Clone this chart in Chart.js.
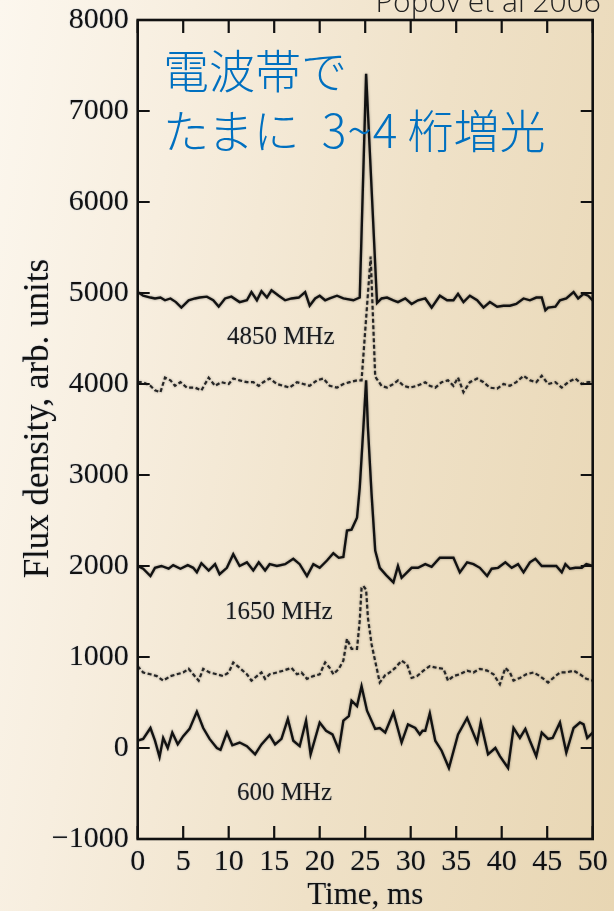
<!DOCTYPE html>
<html>
<head>
<meta charset="utf-8">
<title>Flux density vs time</title>
<script src="https://cdn.jsdelivr.net/npm/chart.js@4"></script>
<style>
  html, body { margin: 0; padding: 0; }
  body {
    width: 614px; height: 911px; overflow: hidden; position: relative;
    background: linear-gradient(100deg, #fcf7ee 0%, #f7eedf 25%, #efe1c7 60%, #e8d6b3 100%);
  }
  #plot { position: absolute; left: 0; top: 0; }
  .note {
    position: absolute; left: 163px; top: 38px;
    font-family: "Noto Sans CJK JP", sans-serif; font-weight: 300; font-size: 46px; line-height: 60px;
    color: #0070c0; white-space: nowrap;
  }
  .note .num { margin-left: 22px; margin-right: 9px; letter-spacing: 1px; }
  .cite {
    position: absolute; right: 13px; top: -14px;
    font-family: "Open Sans", sans-serif; font-weight: 300; font-size: 30px; line-height: 30px;
    color: #222; white-space: nowrap;
  }
</style>
</head>
<body>
<canvas id="plot" width="614" height="911"></canvas>
<div class="note">電波帯で<br>たまに<span class="num">3~4</span>桁増光</div>
<div class="cite">Popov et al 2006</div>

<script>
// time axis (ms) and flux values for each trace

// 4850 MHz, solid
const t4850 = [0, 0.6, 1.4, 1.9, 2.5, 3.0, 3.6, 4.2, 4.8, 5.6, 6.3, 6.8, 7.6, 8.3, 8.9, 9.6, 10.3, 11.2, 12.0, 12.5, 13.1, 13.6, 14.2, 14.7, 15.5, 16.2, 16.9, 17.7, 18.4, 18.9, 19.5, 20.0, 20.6, 21.1, 21.9, 22.6, 23.7, 24.4, 25.1, 26.3, 26.8, 27.4, 28.1, 28.6, 29.4, 30.1, 30.8, 31.6, 32.3, 33.2, 34.0, 34.7, 35.2, 35.8, 36.5, 37.3, 38.0, 38.7, 39.5, 40.2, 40.9, 41.6, 42.4, 43.1, 43.8, 44.4, 44.8, 45.1, 45.9, 46.4, 47.1, 47.9, 48.4, 49.0, 49.5, 50.0];
const f4850 = [5010, 4970, 4950, 4940, 4950, 4920, 4940, 4900, 4840, 4920, 4940, 4950, 4960, 4920, 4850, 4940, 4960, 4900, 4920, 5010, 4920, 5020, 4950, 5030, 4970, 4920, 4940, 4950, 5010, 4860, 4940, 4970, 4920, 4940, 4970, 4940, 4920, 4950, 7410, 4890, 4940, 4950, 4920, 4900, 4940, 4880, 4920, 4940, 4840, 4970, 4920, 4920, 4990, 4900, 4970, 4920, 4840, 4900, 4850, 4860, 4860, 4880, 4940, 4920, 4950, 4950, 4810, 4840, 4850, 4920, 4940, 5010, 4940, 4990, 4970, 4920];

// dashed trace offset to 4000
const t4850b = [0, 0.6, 1.4, 1.9, 2.5, 3.0, 3.6, 4.1, 4.7, 5.4, 6.3, 7.0, 7.8, 8.5, 9.2, 10.0, 10.5, 11.2, 12.0, 12.7, 13.3, 13.8, 14.5, 15.3, 16.0, 16.7, 17.5, 18.2, 18.9, 19.7, 20.4, 21.1, 21.9, 22.6, 23.3, 24.1, 24.6, 25.6, 26.1, 26.8, 27.4, 28.1, 28.6, 29.2, 29.9, 30.7, 31.6, 32.1, 32.7, 33.4, 34.1, 34.7, 35.2, 35.8, 36.5, 37.3, 38.0, 38.7, 39.5, 40.2, 40.9, 41.6, 42.4, 43.1, 43.8, 44.4, 45.1, 45.9, 46.6, 47.3, 48.1, 48.8, 49.5, 50.0];
const f4850b = [4020, 4020, 3980, 3930, 3910, 4070, 4040, 3980, 4020, 3960, 3960, 3930, 4070, 3980, 4020, 4000, 4060, 4040, 4020, 4020, 3980, 4020, 4060, 4000, 3980, 3960, 4020, 4000, 3980, 4040, 4060, 3980, 3960, 4000, 4020, 4040, 4040, 5400, 4080, 3980, 3960, 4000, 4040, 3980, 3960, 3980, 4020, 3980, 3960, 4020, 4040, 3980, 4070, 3910, 4020, 4060, 4020, 3960, 3950, 4000, 3980, 4020, 4090, 4040, 4020, 4090, 4000, 4020, 3960, 4020, 4060, 4000, 4020, 4020];

// 1650 MHz, solid
const t1650 = [0, 0.6, 1.4, 1.9, 2.6, 3.4, 3.9, 4.7, 5.5, 6.1, 6.5, 7.0, 7.8, 8.5, 9.0, 9.8, 10.5, 11.2, 12.0, 12.7, 13.3, 14.0, 14.5, 15.3, 16.2, 17.1, 17.8, 18.6, 19.3, 20.0, 20.8, 21.5, 22.1, 22.6, 23.0, 23.5, 24.1, 24.4, 24.8, 25.1, 25.3, 25.7, 26.1, 26.6, 27.3, 28.1, 28.6, 29.0, 29.6, 30.1, 30.8, 31.6, 32.3, 33.2, 34.1, 34.7, 35.4, 36.2, 36.9, 37.6, 38.4, 38.9, 39.6, 40.4, 41.1, 41.8, 42.4, 43.1, 43.7, 44.4, 45.1, 46.0, 46.6, 47.0, 47.5, 48.1, 48.8, 49.3, 50.0];
const f1650 = [2000, 1970, 1890, 1980, 2000, 1970, 2010, 1970, 2010, 1980, 1930, 2030, 1950, 2020, 1910, 1980, 2130, 2000, 2040, 1950, 2040, 1950, 2020, 2000, 2020, 2080, 2020, 1890, 2020, 1980, 2060, 2140, 2090, 2100, 2390, 2400, 2530, 2860, 3520, 4040, 3520, 2790, 2170, 1980, 1900, 1820, 2000, 1870, 1930, 1980, 1980, 2020, 1990, 2090, 2090, 2090, 1930, 2040, 2020, 1980, 1890, 1970, 1980, 2040, 1980, 2020, 1930, 2040, 2080, 2000, 2000, 2000, 1930, 2020, 1970, 1980, 1980, 2020, 2000];

// dashed trace offset to 800
const t1650b = [0, 0.6, 1.4, 2.1, 2.8, 3.6, 4.3, 5.0, 5.6, 6.1, 6.7, 7.2, 7.9, 8.7, 9.4, 10.0, 10.5, 11.2, 12.0, 12.5, 13.1, 13.6, 14.0, 14.5, 15.3, 16.0, 16.9, 17.5, 18.0, 18.6, 19.3, 20.0, 20.6, 21.1, 21.5, 22.1, 22.6, 23.0, 23.5, 24.1, 24.4, 24.6, 24.8, 25.1, 25.3, 25.7, 26.6, 27.2, 27.7, 28.3, 29.0, 29.6, 30.1, 30.7, 31.4, 32.1, 32.9, 33.6, 34.1, 34.7, 35.4, 36.2, 36.9, 37.6, 38.4, 39.1, 39.8, 40.4, 40.9, 41.3, 42.0, 42.7, 43.5, 44.2, 45.1, 45.9, 46.4, 47.1, 47.9, 48.6, 49.3, 50.0];
const f1650b = [900, 830, 810, 790, 740, 790, 810, 830, 870, 810, 740, 870, 830, 810, 790, 830, 940, 880, 810, 740, 790, 830, 760, 810, 830, 850, 880, 810, 830, 760, 790, 810, 940, 880, 810, 870, 960, 1200, 1090, 1090, 1400, 1760, 1780, 1740, 1430, 1140, 720, 800, 830, 880, 960, 920, 770, 790, 850, 900, 880, 870, 740, 790, 810, 850, 830, 870, 850, 810, 700, 880, 830, 740, 770, 810, 830, 790, 720, 790, 830, 830, 850, 810, 760, 740];

// 600 MHz, solid
const t600 = [0, 0.6, 1.4, 1.9, 2.4, 2.8, 3.3, 3.8, 4.4, 5.0, 5.7, 6.5, 7.2, 7.9, 8.7, 9.1, 9.8, 10.4, 11.2, 12.0, 12.9, 13.6, 14.5, 15.1, 15.8, 16.5, 17.1, 17.8, 18.5, 19.0, 20.0, 20.7, 21.4, 22.1, 22.6, 23.2, 23.5, 24.1, 24.6, 25.2, 26.1, 26.6, 27.2, 28.1, 29.0, 29.7, 30.5, 31.0, 31.3, 31.6, 32.1, 32.7, 33.4, 34.2, 35.2, 36.2, 37.3, 37.7, 38.5, 39.3, 39.8, 40.7, 41.3, 42.0, 42.6, 43.1, 43.8, 44.4, 45.1, 45.6, 46.4, 47.1, 47.9, 48.6, 49.0, 49.4, 50.0];
const f600 = [80, 100, 220, 80, -100, 110, 0, 170, 40, 130, 210, 400, 220, 100, 0, -20, 170, 30, 60, 20, -70, 40, 140, 40, 100, 320, 80, 20, 300, -70, 280, 190, 150, -20, 300, 350, 520, 460, 680, 410, 210, 220, 170, 390, 60, 260, 220, 150, 190, 190, 380, 80, -30, -220, 150, 330, 60, 280, -70, 0, -90, -220, 220, 110, 210, 80, -90, 170, 100, 110, 280, -50, 220, 280, 260, 110, 170];

const xTicks = { min: 0, max: 50, step: 5 };
const yTicks = { min: -1000, max: 8000, step: 1000 };
const yTitle = 'Flux density, arb. units';

// text tags placed in data coordinates
const bandTags = [
  { text: '4850 MHz', t: 9.8, v: 4510 },
  { text: '1650 MHz', t: 9.6, v: 1490 },
  { text: '600 MHz', t: 10.9, v: -495 }
];

const serif = 'Liberation Serif, Times New Roman, serif';
const ink = '#111';
const glow = 'rgba(70,110,170,0.45)';

function pts(ts, vs) {
  return ts.map((t, i) => ({ x: t, y: vs[i] }));
}

function trace(ts, vs, dashed) {
  return {
    data: pts(ts, vs),
    borderColor: dashed ? '#262626' : '#121212',
    borderWidth: dashed ? 2.2 : 2.4,
    borderDash: dashed ? [4, 2.5] : [],
    pointRadius: 0,
    tension: 0,
    fill: false
  };
}

// faint halo around the axis text
const textHalo = {
  id: 'textHalo',
  beforeDraw(chart) {
    const ctx = chart.ctx;
    ctx.save();
    ctx.shadowColor = glow;
    ctx.shadowBlur = 1.5;
  },
  beforeDatasetsDraw(chart) {
    chart.ctx.restore();
  }
};

// soft halo under the traces
const traceHalo = {
  id: 'traceHalo',
  beforeDatasetsDraw(chart) {
    const ctx = chart.ctx;
    ctx.save();
    ctx.shadowColor = 'rgba(0,0,0,0.4)';
    ctx.shadowBlur = 2.5;
  },
  afterDatasetsDraw(chart) {
    chart.ctx.restore();
  }
};

// boxed frame with inward ticks, band tags and the vertical axis title
const frameTicks = {
  id: 'frameTicks',
  afterDatasetsDraw(chart) {
    const { ctx, chartArea: a, scales: { x, y } } = chart;
    ctx.save();
    ctx.strokeStyle = ink;
    ctx.lineWidth = 2.6;
    ctx.strokeRect(a.left, a.top, a.right - a.left, a.bottom - a.top);
    ctx.lineWidth = 2.2;
    ctx.beginPath();
    x.ticks.forEach(tk => {
      const px = x.getPixelForValue(tk.value);
      ctx.moveTo(px, a.bottom); ctx.lineTo(px, a.bottom - 13);
      ctx.moveTo(px, a.top); ctx.lineTo(px, a.top + 13);
    });
    y.ticks.forEach(tk => {
      const py = y.getPixelForValue(tk.value);
      ctx.moveTo(a.left, py); ctx.lineTo(a.left + 12, py);
      ctx.moveTo(a.right, py); ctx.lineTo(a.right - 12, py);
    });
    ctx.stroke();

    ctx.fillStyle = '#1a1a1a';
    ctx.shadowColor = glow;
    ctx.shadowBlur = 1.5;
    ctx.font = '25px ' + serif;
    ctx.textAlign = 'left';
    ctx.textBaseline = 'middle';
    bandTags.forEach(b => {
      ctx.fillText(b.text, x.getPixelForValue(b.t), y.getPixelForValue(b.v));
    });

    ctx.fillStyle = ink;
    ctx.font = '35px ' + serif;
    ctx.textAlign = 'center';
    ctx.translate(38.5, y.getPixelForValue(3620));
    ctx.rotate(-Math.PI / 2);
    ctx.fillText(yTitle, 0, 0);
    ctx.restore();
  }
};

new Chart(document.getElementById('plot'), {
  type: 'line',
  data: {
    datasets: [
      trace(t4850, f4850, false),
      trace(t4850b, f4850b, true),
      trace(t1650, f1650, false),
      trace(t1650b, f1650b, true),
      trace(t600, f600, false)
    ]
  },
  plugins: [textHalo, traceHalo, frameTicks],
  options: {
    responsive: false,
    devicePixelRatio: 1,
    animation: false,
    layout: { padding: { left: 0, right: 21.3, top: 20, bottom: 0 } },
    plugins: { legend: { display: false }, tooltip: { enabled: false } },
    scales: {
      x: {
        type: 'linear',
        min: xTicks.min, max: xTicks.max,
        grid: { display: false, drawTicks: false },
        border: { display: false },
        ticks: {
          stepSize: xTicks.step, padding: 5, color: ink, maxRotation: 0, autoSkip: false,
          font: { family: serif, size: 30 }
        },
        title: {
          display: true, text: 'Time, ms', color: ink,
          font: { family: serif, size: 31, lineHeight: 1 },
          padding: { top: 0, bottom: 0 }
        },
        afterFit(s) { s.height = 72; s.paddingLeft = 0; s.paddingRight = 0; }
      },
      y: {
        type: 'linear',
        min: yTicks.min, max: yTicks.max,
        grid: { display: false, drawTicks: false },
        border: { display: false },
        ticks: {
          stepSize: yTicks.step, padding: 9, color: ink,
          font: { family: serif, size: 30 },
          callback: v => (v < 0 ? '\u2212' + Math.abs(v) : String(v))
        },
        title: { display: false },
        afterFit(s) { s.width = 137.7; s.paddingTop = 0; s.paddingBottom = 0; }
      }
    }
  }
});
</script>
</body>
</html>
